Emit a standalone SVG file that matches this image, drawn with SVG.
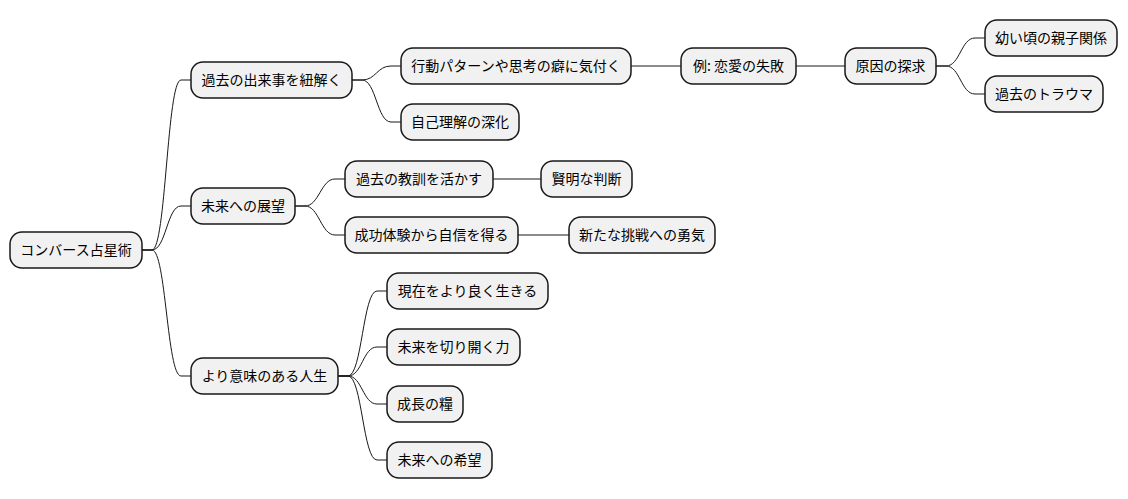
<svg xmlns="http://www.w3.org/2000/svg" width="1128" height="499" viewBox="0 0 1128 499">
<style>
.n rect{fill:#f1f1f1;stroke:#181818;stroke-width:1.5}
.n text{font-family:"Noto Sans CJK JP","Noto Sans",sans-serif;font-size:14px;fill:#000;text-anchor:middle}
#edges path{fill:none;stroke:#181818;stroke-width:1}
</style>
<rect width="1128" height="499" fill="#fff"/>
<g id="edges">
<path d="M142,250 L152,250 C166,250 167,80 181,80 L191,80"/>
<path d="M142,250 L152,250 C166,250 167,206 181,206 L191,206"/>
<path d="M142,250 L152,250 C166,250 167,376 181,376 L191,376"/>
<path d="M352,80 L362,80 C376,80 377,66 391,66 L401,66"/>
<path d="M352,80 L362,80 C376,80 377,122 391,122 L401,122"/>
<path d="M631,66 L681,66"/>
<path d="M796,66 L845,66"/>
<path d="M936,66 L946,66 C960,66 961,38 975,38 L985,38"/>
<path d="M936,66 L946,66 C960,66 961,94 975,94 L985,94"/>
<path d="M295,206 L305,206 C319,206 321,179 335,179 L345,179"/>
<path d="M295,206 L305,206 C319,206 321,235 335,235 L345,235"/>
<path d="M493,179 L541,179"/>
<path d="M518,235 L569,235"/>
<path d="M338,376 L348,376 C362,376 363,291 377,291 L387,291"/>
<path d="M338,376 L348,376 C362,376 363,347 377,347 L387,347"/>
<path d="M338,376 L348,376 C362,376 363,404 377,404 L387,404"/>
<path d="M338,376 L348,376 C362,376 363,460 377,460 L387,460"/>
</g>
<g id="root" class="n"><rect x="10" y="232" width="132" height="36" rx="12"/><text x="76" y="255">コンバース占星術</text></g>
<g id="n1" class="n"><rect x="191" y="62" width="161" height="36" rx="12"/><text x="271.5" y="85">過去の出来事を紐解く</text></g>
<g id="n2" class="n"><rect x="191" y="188" width="104" height="36" rx="12"/><text x="243" y="211">未来への展望</text></g>
<g id="n3" class="n"><rect x="191" y="358" width="147" height="36" rx="12"/><text x="264.5" y="381">より意味のある人生</text></g>
<g id="n11" class="n"><rect x="401" y="48" width="230" height="36" rx="12"/><text x="516" y="71">行動パターンや思考の癖に気付く</text></g>
<g id="n12" class="n"><rect x="401" y="104" width="118" height="36" rx="12"/><text x="460" y="127">自己理解の深化</text></g>
<g id="n111" class="n"><rect x="681" y="48" width="115" height="36" rx="12"/><text x="738.5" y="71">例: 恋愛の失敗</text></g>
<g id="n1111" class="n"><rect x="845" y="48" width="91" height="36" rx="12"/><text x="890.5" y="71">原因の探求</text></g>
<g id="n11111" class="n"><rect x="985" y="20" width="132" height="36" rx="12"/><text x="1051" y="43">幼い頃の親子関係</text></g>
<g id="n11112" class="n"><rect x="985" y="76" width="118" height="36" rx="12"/><text x="1044" y="99">過去のトラウマ</text></g>
<g id="n21" class="n"><rect x="345" y="161" width="148" height="36" rx="12"/><text x="419" y="184">過去の教訓を活かす</text></g>
<g id="n211" class="n"><rect x="541" y="161" width="91" height="36" rx="12"/><text x="586.5" y="184">賢明な判断</text></g>
<g id="n22" class="n"><rect x="345" y="217" width="173" height="36" rx="12"/><text x="431.5" y="240">成功体験から自信を得る</text></g>
<g id="n221" class="n"><rect x="569" y="217" width="146" height="36" rx="12"/><text x="642" y="240">新たな挑戦への勇気</text></g>
<g id="n31" class="n"><rect x="387" y="273" width="161" height="36" rx="12"/><text x="467.5" y="296">現在をより良く生きる</text></g>
<g id="n32" class="n"><rect x="387" y="329" width="133" height="36" rx="12"/><text x="453.5" y="352">未来を切り開く力</text></g>
<g id="n33" class="n"><rect x="387" y="386" width="76" height="36" rx="12"/><text x="425" y="409">成長の糧</text></g>
<g id="n34" class="n"><rect x="387" y="442" width="105" height="36" rx="12"/><text x="439.5" y="465">未来への希望</text></g>
</svg>
